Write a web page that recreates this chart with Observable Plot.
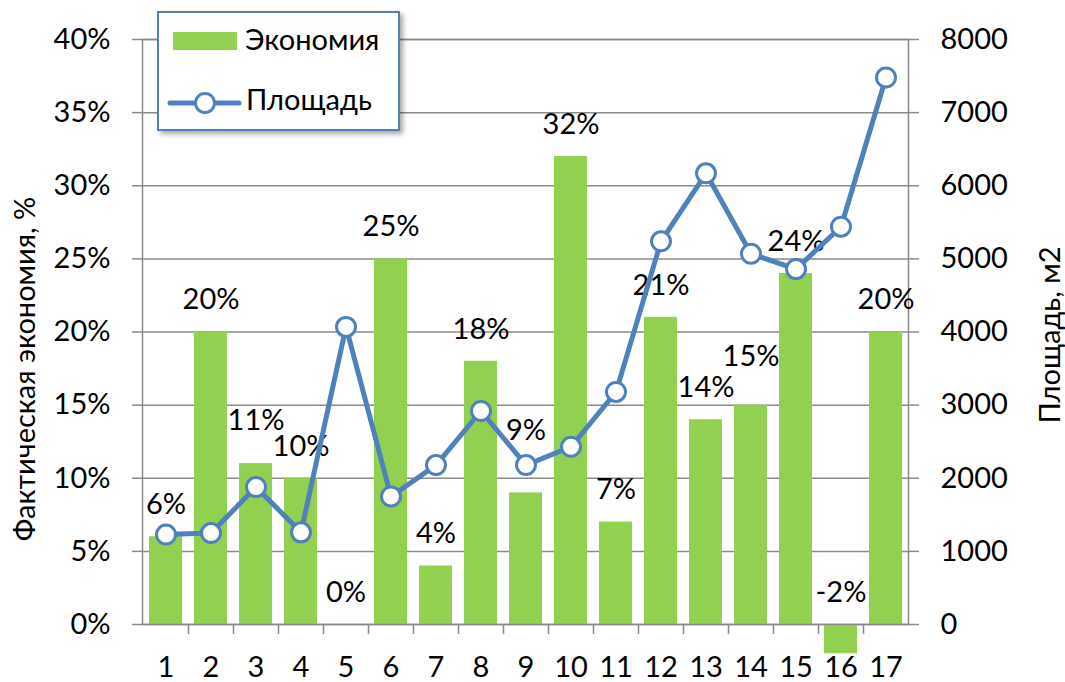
<!DOCTYPE html>
<html>
<head>
<meta charset="utf-8">
<script src="https://cdn.jsdelivr.net/npm/d3@7"></script>
<script src="https://cdn.jsdelivr.net/npm/@observablehq/plot@0.6"></script>
<style>
  html, body { margin: 0; padding: 0; background: #fff; }
  #wrap { position: relative; width: 1065px; height: 682px; font-family: Lato, "Open Sans", sans-serif; }
  #legend {
    position: absolute; left: 157px; top: 11px; width: 239px; height: 116px;
    border: 2px solid #4f81bd; background: #fff;
    box-shadow: 3px 3px 5px rgba(0,0,0,0.35);
  }
  #legend svg { display: block; font-family: Lato, sans-serif; font-size: 29px; }
</style>
</head>
<body>
<div id="wrap">
  <div id="chart"></div>
  <div id="legend"></div>
</div>
<script>
// ---- data ----
const categories = ["1","2","3","4","5","6","7","8","9","10","11","12","13","14","15","16","17"];
const savings = [6, 20, 11, 10, 0, 25, 4, 18, 9, 32, 7, 21, 14, 15, 24, -2, 20];       // Экономия, %
const area = [1230, 1250, 1880, 1260, 4070, 1750, 2180, 2920, 2180, 2430, 3180, 5240, 6170, 5070, 4860, 5440, 7480]; // Площадь, м2
const leftTicks = [0, 5, 10, 15, 20, 25, 30, 35, 40];
const seriesNames = ["Экономия", "Площадь"];
const leftTitle = "Фактическая экономия, %";
const rightTitle = "Площадь, м2";

// ---- presentation ----
const green = "#92d050";
const blue = "#4f81bd";
const gridColor = "#8a8a8a";
const areaToPct = 40 / 8000;          // right axis 0–8000 maps onto left 0–40%
const pxPerUnit = 585 / 40;           // plot height / y-domain span
const labelLift = [0,0,11,0,0,0,0,0,30,0,0,0,0,16,0,0,0]; // manual label nudges (px)

const data = categories.map((c, i) => ({
  cat: c, savings: savings[i], area: area[i], lift: labelLift[i]
}));

const chart = Plot.plot({
  width: 1065,
  height: 682,
  marginLeft: 142,
  marginRight: 157,
  marginTop: 39,
  marginBottom: 58,
  style: { fontFamily: "Lato, 'Open Sans', sans-serif", fontSize: "29px", background: "white", color: "black" },
  x: { domain: categories, paddingInner: 0.27, paddingOuter: 0.135, label: null },
  y: { domain: [0, 40], label: null },
  marks: [
    Plot.gridY({ ticks: leftTicks, stroke: gridColor, strokeOpacity: 1, strokeWidth: 1.5 }),
    Plot.barY(data, { x: "cat", y: "savings", fill: green }),
    Plot.frame({ stroke: gridColor, strokeWidth: 1.5 }),
    Plot.axisY({ anchor: "left", ticks: leftTicks, tickFormat: d => d + "%", tickSize: 10, tickPadding: 22,
                 stroke: gridColor, strokeWidth: 1.5, fill: "black", label: null }),
    Plot.axisY({ anchor: "right", ticks: leftTicks, tickFormat: d => String(Math.round(d / areaToPct)), tickSize: 10, tickPadding: 22,
                 stroke: gridColor, strokeWidth: 1.5, fill: "black", label: null }),
    Plot.axisX({ tickSize: 0, tickPadding: 32, fill: "black", label: null }),
    Plot.axisX({ ticks: categories.slice(0, 16), tickSize: 10, dx: 22.5, stroke: gridColor, strokeWidth: 1.5, fill: "none", label: null }),
    Plot.text(data, { x: "cat", y: d => Math.max(d.savings, 0) + d.lift / pxPerUnit, text: d => d.savings + "%",
                      dy: -32, fill: "black", fontSize: 29 }),
    Plot.line(data, { x: "cat", y: d => d.area * areaToPct, stroke: blue, strokeWidth: 5, strokeLinejoin: "round" }),
    Plot.dot(data, { x: "cat", y: d => d.area * areaToPct, r: 9.5, fill: "white", stroke: blue, strokeWidth: 3 }),
    Plot.text([leftTitle], { frameAnchor: "left", dx: -117, dy: 37, rotate: -90, textAnchor: "middle", fontSize: 29, fill: "black" }),
    Plot.text([rightTitle], { frameAnchor: "right", dx: 142, dy: 3, rotate: -90, textAnchor: "middle", fontSize: 29, fill: "black" })
  ]
});
document.getElementById("chart").appendChild(chart);

// ---- legend ----
const lg = d3.select("#legend").append("svg").attr("width", 239).attr("height", 116);
lg.append("rect").attr("x", 14).attr("y", 19).attr("width", 64).attr("height", 18).attr("fill", green);
lg.append("text").attr("x", 86).attr("y", 30).attr("dominant-baseline", "middle").text(seriesNames[0]);
lg.append("line").attr("x1", 11).attr("x2", 80).attr("y1", 90).attr("y2", 90).attr("stroke", blue).attr("stroke-width", 5).attr("stroke-linecap", "round");
lg.append("circle").attr("cx", 46).attr("cy", 90).attr("r", 9.5).attr("fill", "white").attr("stroke", blue).attr("stroke-width", 3);
lg.append("text").attr("x", 87).attr("y", 90).attr("dominant-baseline", "middle").text(seriesNames[1]);
</script>
</body>
</html>
